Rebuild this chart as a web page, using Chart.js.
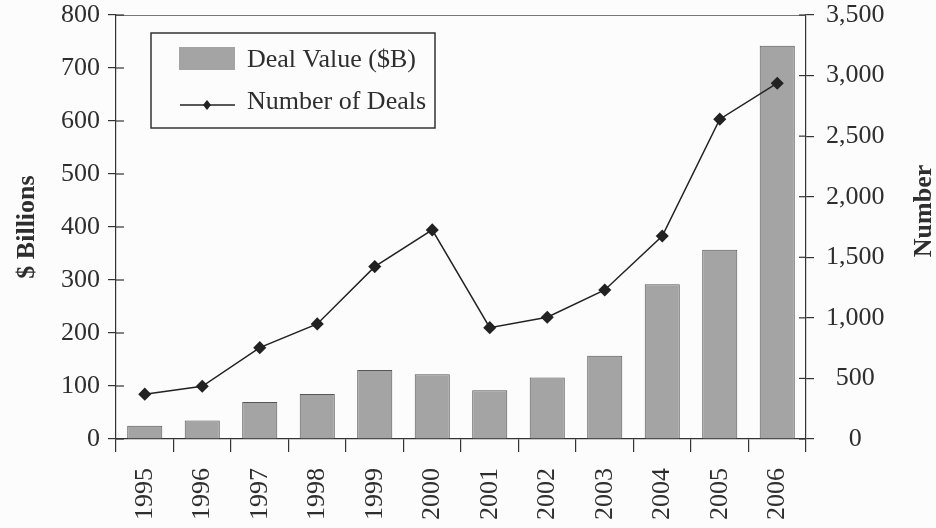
<!DOCTYPE html>
<html>
<head>
<meta charset="utf-8">
<script src="https://cdn.jsdelivr.net/npm/chart.js@4.4.1/dist/chart.umd.min.js"></script>
<style>
  html, body { margin: 0; padding: 0; background: #fcfcfc; }
  #wrap { width: 936px; height: 528px; position: relative; }
</style>
</head>
<body>
<div id="wrap"><canvas id="grafico"></canvas></div>
<script>
// dados
const anos = ['1995', '1996', '1997', '1998', '1999', '2000', '2001', '2002', '2003', '2004', '2005', '2006'];
const valorNegocios = [25, 35, 70, 85, 130, 122, 92, 116, 157, 292, 357, 742];
const numeroNegocios = [370, 435, 754, 950, 1423, 1726, 919, 1005, 1230, 1676, 2640, 2937];
const ticksEsquerda = [0, 100, 200, 300, 400, 500, 600, 700, 800];
const ticksDireita = [0, 500, 1000, 1500, 2000, 2500, 3000, 3500];

const corTexto = '#2e2e2e';
const corBarra = '#a4a4a4';
const corBordaBarra = '#555555';
const corLinha = '#222222';
const fonte = '"Liberation Serif", "Times New Roman", serif';

Chart.defaults.font.family = fonte;
Chart.defaults.font.size = 26;
Chart.defaults.color = corTexto;

// moldura do topo, ticks para dentro, legenda e título da direita
const extras = {
  id: 'extras',
  afterDatasetsDraw(chart) {
    const { ctx, chartArea: a, scales } = chart;
    ctx.save();
    ctx.strokeStyle = '#777';
    ctx.lineWidth = 1;
    ctx.beginPath();
    ctx.moveTo(a.left, a.top + 0.5);
    ctx.lineTo(a.right, a.top + 0.5);
    ctx.stroke();

    ctx.strokeStyle = '#333';
    ctx.lineWidth = 1.2;
    ticksEsquerda.forEach(v => {
      const y = scales.y.getPixelForValue(v);
      ctx.beginPath();
      ctx.moveTo(a.left, y);
      ctx.lineTo(a.left + 8, y);
      ctx.stroke();
    });
    ticksDireita.forEach(v => {
      const y = scales.y1.getPixelForValue(v);
      ctx.beginPath();
      ctx.moveTo(a.right, y);
      ctx.lineTo(a.right - 7, y);
      ctx.stroke();
    });
    ctx.restore();
  },
  afterDraw(chart) {
    const { ctx, chartArea: a } = chart;
    ctx.save();
    // caixa da legenda
    const bx = a.left + 35, by = a.top + 18, bw = 284, bh = 95;
    ctx.fillStyle = '#fcfcfc';
    ctx.fillRect(bx, by, bw, bh);
    ctx.strokeStyle = '#333';
    ctx.lineWidth = 1.5;
    ctx.strokeRect(bx, by, bw, bh);

    ctx.fillStyle = corBarra;
    ctx.fillRect(bx + 28, by + 14, 56, 23);

    ctx.strokeStyle = corLinha;
    ctx.lineWidth = 1.5;
    ctx.beginPath();
    ctx.moveTo(bx + 29, by + 72);
    ctx.lineTo(bx + 84, by + 72);
    ctx.stroke();
    ctx.fillStyle = corLinha;
    ctx.beginPath();
    const mx = bx + 56, my = by + 72;
    ctx.moveTo(mx, my - 5);
    ctx.lineTo(mx + 4, my);
    ctx.lineTo(mx, my + 5);
    ctx.lineTo(mx - 4, my);
    ctx.closePath();
    ctx.fill();

    ctx.fillStyle = corTexto;
    ctx.font = '26px ' + fonte;
    ctx.textBaseline = 'middle';
    ctx.textAlign = 'left';
    ctx.fillText('Deal Value ($B)', bx + 96, by + 27);
    ctx.fillText('Number of Deals', bx + 96, by + 69);

    // título do eixo direito, lido de baixo para cima
    ctx.font = 'bold 26px ' + fonte;
    ctx.textAlign = 'center';
    ctx.translate(924, 211);
    ctx.rotate(-Math.PI / 2);
    ctx.fillText('Number', 0, 0);
    ctx.restore();
  }
};

// largura fixa e sem folga extra no topo para os eixos verticais
function fixarEixo(largura) {
  return s => {
    s.width = largura;
    s.paddingTop = 0;
    s.paddingBottom = 0;
  };
}

new Chart(document.getElementById('grafico'), {
  data: {
    labels: anos,
    datasets: [
      {
        type: 'line',
        label: 'Number of Deals',
        data: numeroNegocios,
        yAxisID: 'y1',
        borderColor: corLinha,
        backgroundColor: corLinha,
        borderWidth: 1.5,
        pointStyle: 'rectRot',
        pointRadius: 5.5,
        pointHoverRadius: 5.5,
        tension: 0,
        order: 0
      },
      {
        type: 'bar',
        label: 'Deal Value ($B)',
        data: valorNegocios,
        yAxisID: 'y',
        backgroundColor: corBarra,
        borderColor: corBordaBarra,
        borderWidth: 1,
        barPercentage: 0.61,
        categoryPercentage: 1,
        order: 1
      }
    ]
  },
  options: {
    responsive: true,
    maintainAspectRatio: false,
    animation: false,
    layout: { padding: { top: 15, left: 0, right: 0, bottom: 0 } },
    plugins: {
      legend: { display: false },
      tooltip: { enabled: false }
    },
    scales: {
      x: {
        offset: true,
        grid: { offset: true, drawOnChartArea: false, tickLength: 13, color: '#333', lineWidth: 1.2 },
        border: { color: '#333', width: 1.2 },
        ticks: { autoSkip: false, maxRotation: 90, minRotation: 90, padding: 16 },
        afterFit: s => { s.height = 89; }
      },
      y: {
        position: 'left',
        min: 0,
        max: 800,
        ticks: { stepSize: 100, padding: 8 },
        grid: { drawOnChartArea: false, tickLength: 8, color: '#333', lineWidth: 1.2 },
        border: { color: '#333', width: 1.2 },
        title: { display: true, text: '$ Billions', font: { weight: 'bold', size: 26 }, padding: { top: 12 } },
        afterFit: fixarEixo(116)
      },
      y1: {
        position: 'right',
        min: 0,
        max: 3500,
        ticks: {
          stepSize: 500,
          padding: 12,
          crossAlign: 'center',
          callback: v => v.toLocaleString('en-US')
        },
        grid: { drawOnChartArea: false, tickLength: 8, color: '#333', lineWidth: 1.2 },
        border: { color: '#333', width: 1.2 },
        afterFit: fixarEixo(130)
      }
    }
  },
  plugins: [extras]
});
</script>
</body>
</html>
